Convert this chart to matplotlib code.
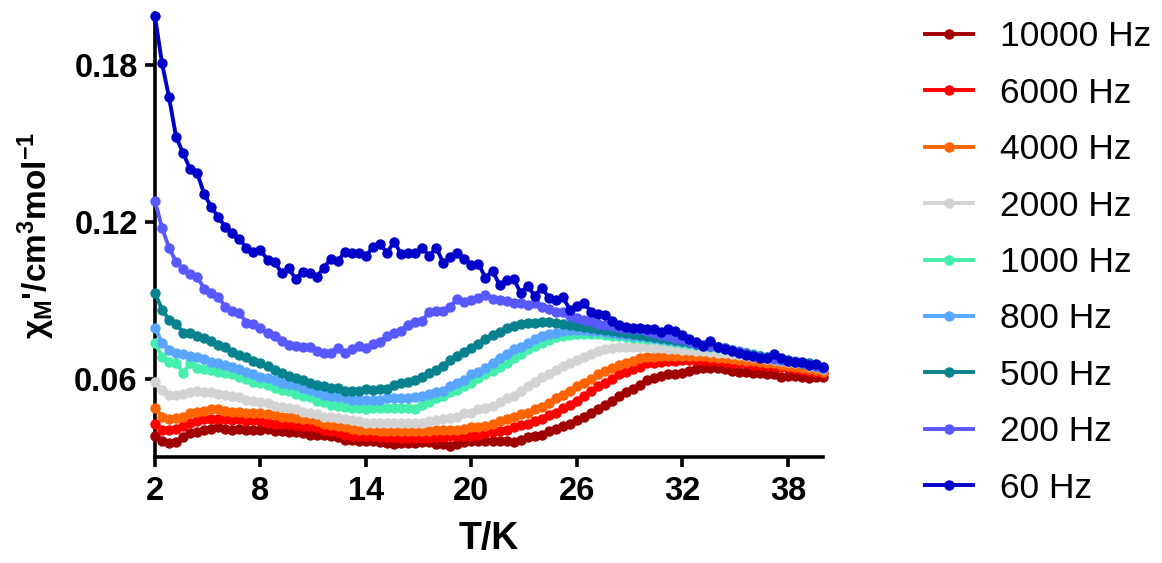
import matplotlib
matplotlib.use("Agg")
import matplotlib.pyplot as plt

plt.rcParams['font.family'] = ['Liberation Sans', 'DejaVu Sans']
plt.rcParams['mathtext.fontset'] = 'custom'
plt.rcParams['mathtext.rm'] = 'Liberation Sans'
plt.rcParams['mathtext.bf'] = 'Liberation Sans:bold'
plt.rcParams['mathtext.it'] = 'Liberation Sans:italic'

# temperature grid (K)
T = [2.0, 2.4, 2.8, 3.2, 3.6, 4.0, 4.4, 4.8, 5.2, 5.6,
     6.0, 6.4, 6.8, 7.2, 7.6, 8.0, 8.4, 8.8, 9.2, 9.6,
     10.0, 10.4, 10.8, 11.2, 11.6, 12.0, 12.4, 12.8, 13.2, 13.6,
     14.0, 14.4, 14.8, 15.2, 15.6, 16.0, 16.4, 16.8, 17.2, 17.6,
     18.0, 18.4, 18.8, 19.2, 19.6, 20.0, 20.4, 20.8, 21.2, 21.6,
     22.0, 22.4, 22.8, 23.2, 23.6, 24.0, 24.4, 24.8, 25.2, 25.6,
     26.0, 26.4, 26.8, 27.2, 27.6, 28.0, 28.4, 28.8, 29.2, 29.6,
     30.0, 30.4, 30.8, 31.2, 31.6, 32.0, 32.4, 32.8, 33.2, 33.6,
     34.0, 34.4, 34.8, 35.2, 35.6, 36.0, 36.4, 36.8, 37.2, 37.6,
     38.0, 38.4, 38.8, 39.2, 39.6, 40.0]

chi_10000 = [0.0379, 0.0363, 0.0352, 0.0356, 0.0375, 0.0390, 0.0394, 0.0402, 0.0409, 0.0413,
             0.0409, 0.0405, 0.0409, 0.0402, 0.0402, 0.0405, 0.0409, 0.0398, 0.0398, 0.0394,
             0.0394, 0.0390, 0.0386, 0.0386, 0.0386, 0.0382, 0.0375, 0.0367, 0.0367, 0.0363,
             0.0360, 0.0360, 0.0356, 0.0352, 0.0348, 0.0352, 0.0352, 0.0352, 0.0356, 0.0356,
             0.0348, 0.0348, 0.0344, 0.0348, 0.0356, 0.0360, 0.0360, 0.0360, 0.0363, 0.0360,
             0.0363, 0.0356, 0.0367, 0.0375, 0.0379, 0.0386, 0.0398, 0.0409, 0.0417, 0.0428,
             0.0440, 0.0455, 0.0467, 0.0482, 0.0501, 0.0516, 0.0532, 0.0547, 0.0562, 0.0577,
             0.0593, 0.0604, 0.0612, 0.0616, 0.0616, 0.0623, 0.0631, 0.0638, 0.0642, 0.0642,
             0.0642, 0.0638, 0.0631, 0.0627, 0.0627, 0.0623, 0.0623, 0.0619, 0.0619, 0.0608,
             0.0612, 0.0612, 0.0608, 0.0604, 0.0608, 0.0608]

chi_6000 = [0.0428, 0.0405, 0.0402, 0.0409, 0.0417, 0.0432, 0.0436, 0.0447, 0.0447, 0.0447,
            0.0444, 0.0440, 0.0444, 0.0436, 0.0440, 0.0436, 0.0432, 0.0428, 0.0428, 0.0425,
            0.0421, 0.0417, 0.0417, 0.0413, 0.0402, 0.0398, 0.0394, 0.0386, 0.0382, 0.0379,
            0.0379, 0.0379, 0.0375, 0.0375, 0.0375, 0.0371, 0.0371, 0.0371, 0.0371, 0.0371,
            0.0375, 0.0375, 0.0379, 0.0379, 0.0379, 0.0382, 0.0386, 0.0390, 0.0394, 0.0398,
            0.0405, 0.0413, 0.0421, 0.0428, 0.0436, 0.0447, 0.0459, 0.0470, 0.0486, 0.0501,
            0.0516, 0.0535, 0.0551, 0.0570, 0.0585, 0.0600, 0.0616, 0.0627, 0.0638, 0.0646,
            0.0658, 0.0661, 0.0665, 0.0669, 0.0669, 0.0673, 0.0673, 0.0673, 0.0673, 0.0669,
            0.0669, 0.0665, 0.0661, 0.0661, 0.0658, 0.0654, 0.0654, 0.0650, 0.0650, 0.0646,
            0.0642, 0.0638, 0.0635, 0.0631, 0.0627, 0.0623]

chi_4000 = [0.0489, 0.0455, 0.0444, 0.0451, 0.0455, 0.0470, 0.0474, 0.0478, 0.0482, 0.0482,
            0.0478, 0.0474, 0.0474, 0.0470, 0.0470, 0.0467, 0.0463, 0.0459, 0.0455, 0.0455,
            0.0451, 0.0447, 0.0444, 0.0436, 0.0425, 0.0421, 0.0417, 0.0413, 0.0409, 0.0405,
            0.0405, 0.0402, 0.0398, 0.0398, 0.0398, 0.0398, 0.0398, 0.0398, 0.0398, 0.0398,
            0.0402, 0.0402, 0.0405, 0.0405, 0.0409, 0.0413, 0.0413, 0.0417, 0.0428, 0.0436,
            0.0444, 0.0455, 0.0463, 0.0470, 0.0482, 0.0493, 0.0505, 0.0524, 0.0539, 0.0554,
            0.0570, 0.0585, 0.0600, 0.0616, 0.0631, 0.0642, 0.0654, 0.0661, 0.0669, 0.0680,
            0.0684, 0.0684, 0.0688, 0.0688, 0.0688, 0.0688, 0.0688, 0.0688, 0.0688, 0.0684,
            0.0680, 0.0680, 0.0677, 0.0673, 0.0669, 0.0669, 0.0665, 0.0661, 0.0661, 0.0654,
            0.0650, 0.0646, 0.0642, 0.0638, 0.0635, 0.0627]

chi_2000 = [0.0589, 0.0558, 0.0539, 0.0539, 0.0543, 0.0547, 0.0551, 0.0547, 0.0547, 0.0543,
            0.0539, 0.0532, 0.0528, 0.0520, 0.0516, 0.0509, 0.0505, 0.0497, 0.0493, 0.0489,
            0.0482, 0.0474, 0.0470, 0.0463, 0.0455, 0.0455, 0.0451, 0.0444, 0.0440, 0.0436,
            0.0432, 0.0432, 0.0432, 0.0432, 0.0432, 0.0432, 0.0432, 0.0432, 0.0432, 0.0436,
            0.0440, 0.0447, 0.0451, 0.0455, 0.0467, 0.0470, 0.0482, 0.0489, 0.0497, 0.0509,
            0.0524, 0.0535, 0.0551, 0.0570, 0.0589, 0.0608, 0.0619, 0.0635, 0.0650, 0.0661,
            0.0673, 0.0684, 0.0696, 0.0707, 0.0715, 0.0719, 0.0722, 0.0722, 0.0722, 0.0722,
            0.0722, 0.0719, 0.0719, 0.0715, 0.0715, 0.0711, 0.0711, 0.0707, 0.0707, 0.0703,
            0.0700, 0.0700, 0.0696, 0.0692, 0.0688, 0.0684, 0.0680, 0.0677, 0.0673, 0.0669,
            0.0665, 0.0661, 0.0658, 0.0650, 0.0646, 0.0638]

chi_1000 = [0.0738, 0.0684, 0.0665, 0.0661, 0.0623, 0.0658, 0.0642, 0.0638, 0.0635, 0.0627,
            0.0623, 0.0616, 0.0608, 0.0600, 0.0589, 0.0585, 0.0574, 0.0566, 0.0558, 0.0551,
            0.0543, 0.0535, 0.0528, 0.0516, 0.0509, 0.0501, 0.0497, 0.0493, 0.0489, 0.0486,
            0.0482, 0.0486, 0.0486, 0.0489, 0.0489, 0.0489, 0.0489, 0.0482, 0.0501, 0.0512,
            0.0524, 0.0532, 0.0547, 0.0558, 0.0570, 0.0585, 0.0604, 0.0619, 0.0631, 0.0646,
            0.0661, 0.0680, 0.0696, 0.0715, 0.0726, 0.0738, 0.0749, 0.0761, 0.0764, 0.0768,
            0.0772, 0.0772, 0.0772, 0.0772, 0.0768, 0.0764, 0.0764, 0.0761, 0.0757, 0.0757,
            0.0753, 0.0753, 0.0749, 0.0745, 0.0742, 0.0738, 0.0734, 0.0730, 0.0726, 0.0722,
            0.0719, 0.0715, 0.0711, 0.0703, 0.0700, 0.0692, 0.0688, 0.0684, 0.0677, 0.0673,
            0.0669, 0.0665, 0.0661, 0.0654, 0.0650, 0.0642]

chi_800 = [0.0795, 0.0738, 0.0711, 0.0700, 0.0696, 0.0688, 0.0684, 0.0677, 0.0665, 0.0661,
           0.0654, 0.0646, 0.0638, 0.0627, 0.0619, 0.0608, 0.0604, 0.0593, 0.0585, 0.0581,
           0.0574, 0.0566, 0.0558, 0.0547, 0.0539, 0.0532, 0.0528, 0.0524, 0.0520, 0.0520,
           0.0520, 0.0520, 0.0520, 0.0524, 0.0524, 0.0524, 0.0524, 0.0528, 0.0535, 0.0543,
           0.0547, 0.0554, 0.0570, 0.0585, 0.0596, 0.0616, 0.0627, 0.0642, 0.0661, 0.0680,
           0.0696, 0.0715, 0.0722, 0.0738, 0.0753, 0.0764, 0.0772, 0.0776, 0.0784, 0.0787,
           0.0787, 0.0787, 0.0784, 0.0784, 0.0780, 0.0776, 0.0772, 0.0768, 0.0764, 0.0764,
           0.0761, 0.0757, 0.0753, 0.0749, 0.0745, 0.0742, 0.0738, 0.0734, 0.0730, 0.0726,
           0.0722, 0.0719, 0.0711, 0.0707, 0.0700, 0.0696, 0.0688, 0.0684, 0.0680, 0.0677,
           0.0673, 0.0669, 0.0661, 0.0658, 0.0650, 0.0646]

chi_500 = [0.0929, 0.0864, 0.0826, 0.0810, 0.0776, 0.0776, 0.0764, 0.0757, 0.0745, 0.0730,
           0.0722, 0.0703, 0.0692, 0.0684, 0.0669, 0.0658, 0.0650, 0.0635, 0.0623, 0.0612,
           0.0604, 0.0593, 0.0585, 0.0577, 0.0570, 0.0566, 0.0566, 0.0554, 0.0554, 0.0554,
           0.0562, 0.0558, 0.0562, 0.0562, 0.0577, 0.0585, 0.0589, 0.0596, 0.0608, 0.0623,
           0.0635, 0.0650, 0.0673, 0.0688, 0.0703, 0.0719, 0.0734, 0.0753, 0.0768, 0.0780,
           0.0795, 0.0803, 0.0810, 0.0814, 0.0814, 0.0818, 0.0818, 0.0814, 0.0810, 0.0806,
           0.0803, 0.0799, 0.0795, 0.0791, 0.0787, 0.0784, 0.0780, 0.0776, 0.0772, 0.0768,
           0.0764, 0.0761, 0.0757, 0.0753, 0.0749, 0.0745, 0.0742, 0.0734, 0.0730, 0.0726,
           0.0722, 0.0719, 0.0711, 0.0703, 0.0700, 0.0692, 0.0688, 0.0684, 0.0680, 0.0677,
           0.0673, 0.0665, 0.0661, 0.0658, 0.0650, 0.0642]

chi_200 = [0.1280, 0.1177, 0.1101, 0.1047, 0.1020, 0.1001, 0.0990, 0.0944, 0.0929, 0.0913,
           0.0875, 0.0860, 0.0852, 0.0814, 0.0810, 0.0795, 0.0776, 0.0764, 0.0745, 0.0730,
           0.0726, 0.0722, 0.0722, 0.0707, 0.0700, 0.0700, 0.0719, 0.0700, 0.0715, 0.0726,
           0.0719, 0.0734, 0.0742, 0.0764, 0.0776, 0.0784, 0.0806, 0.0818, 0.0822, 0.0856,
           0.0860, 0.0860, 0.0875, 0.0906, 0.0894, 0.0902, 0.0910, 0.0921, 0.0906, 0.0902,
           0.0898, 0.0891, 0.0891, 0.0883, 0.0891, 0.0875, 0.0868, 0.0856, 0.0856, 0.0841,
           0.0833, 0.0826, 0.0822, 0.0810, 0.0806, 0.0803, 0.0795, 0.0795, 0.0791, 0.0791,
           0.0784, 0.0776, 0.0768, 0.0764, 0.0757, 0.0753, 0.0745, 0.0734, 0.0730, 0.0726,
           0.0722, 0.0719, 0.0711, 0.0703, 0.0696, 0.0688, 0.0684, 0.0680, 0.0677, 0.0673,
           0.0669, 0.0665, 0.0661, 0.0654, 0.0650, 0.0642]

chi_60 = [0.1987, 0.1807, 0.1677, 0.1525, 0.1464, 0.1402, 0.1387, 0.1307, 0.1257, 0.1219,
          0.1181, 0.1158, 0.1135, 0.1101, 0.1085, 0.1093, 0.1055, 0.1047, 0.1005, 0.1024,
          0.0982, 0.1009, 0.1005, 0.0990, 0.1024, 0.1059, 0.1051, 0.1085, 0.1082, 0.1082,
          0.1070, 0.1104, 0.1116, 0.1082, 0.1124, 0.1078, 0.1082, 0.1082, 0.1101, 0.1070,
          0.1101, 0.1043, 0.1066, 0.1082, 0.1059, 0.1036, 0.1040, 0.0986, 0.1013, 0.0959,
          0.0978, 0.0982, 0.0929, 0.0955, 0.0917, 0.0948, 0.0910, 0.0902, 0.0913, 0.0864,
          0.0879, 0.0891, 0.0856, 0.0849, 0.0845, 0.0822, 0.0807, 0.0799, 0.0795, 0.0795,
          0.0791, 0.0791, 0.0780, 0.0791, 0.0784, 0.0768, 0.0753, 0.0742, 0.0726, 0.0745,
          0.0723, 0.0715, 0.0707, 0.0700, 0.0692, 0.0688, 0.0680, 0.0680, 0.0696, 0.0680,
          0.0669, 0.0665, 0.0665, 0.0654, 0.0657, 0.0646]

labels = ['10000 Hz', '6000 Hz', '4000 Hz', '2000 Hz', '1000 Hz',
          '800 Hz', '500 Hz', '200 Hz', '60 Hz']
series = [chi_10000, chi_6000, chi_4000, chi_2000, chi_1000,
          chi_800, chi_500, chi_200, chi_60]
colors = ['#A00000', '#FF0000', '#FF6400', '#D3D3D3', '#44EEAD',
          '#58A6FF', '#08828F', '#5858FF', '#0000C8']

fig = plt.figure(figsize=(11.62, 5.63), dpi=100)
ax = fig.add_axes([155/1162, 1 - 457/563, 668/1162, 444/563])

for y, lab, c in zip(series, labels, colors):
    ax.plot(T, y, '-o', color=c, lw=2.8, ms=7.5, mec='none', label=lab,
            clip_on=False, zorder=3)

ax.set_xlim(2, 40)
ax.set_ylim(0.03, 0.2)
ax.set_xticks([2, 8, 14, 20, 26, 32, 38])
ax.set_yticks([0.06, 0.12, 0.18])
ax.set_yticklabels(['0.06', '0.12', '0.18'])

for s in ['top', 'right']:
    ax.spines[s].set_visible(False)
for s in ['left', 'bottom']:
    ax.spines[s].set_linewidth(2.6)

ax.tick_params(direction='out', length=7.5, width=2.6, labelsize=23.5)
ax.tick_params(axis='x', pad=6)
ax.tick_params(axis='y', pad=5)
for t in ax.get_xticklabels() + ax.get_yticklabels():
    t.set_fontweight('bold')

ax.set_xlabel('T/K', fontsize=27, fontweight='bold', labelpad=10)
ax.set_ylabel("χ$_\\mathbf{M}$'/cm$^\\mathbf{3}$mol$^\\mathbf{-1}$",
              fontsize=24, fontweight='bold', labelpad=12)

fig.legend(loc='center left', bbox_to_anchor=(925/1162, 1 - 262.5/563),
           frameon=False, fontsize=25.5, handlelength=1.36, handletextpad=0.76,
           labelspacing=0.66, borderpad=0, borderaxespad=0)

fig.savefig('out.png', dpi=100)
